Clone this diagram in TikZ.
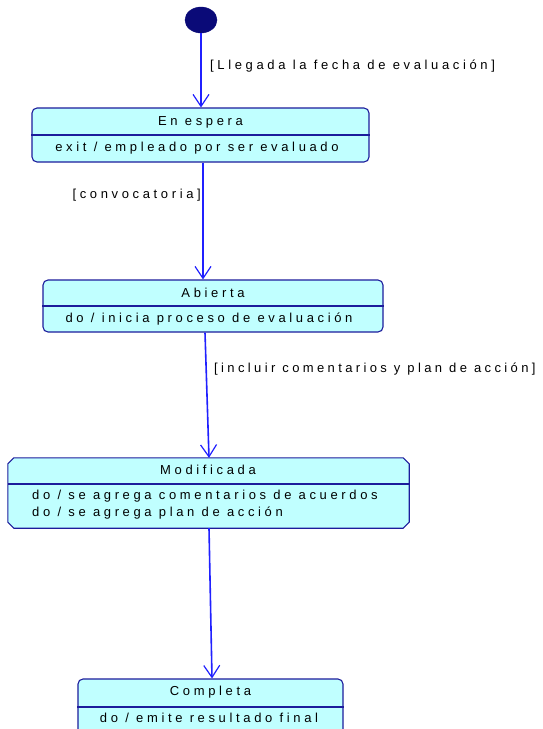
\documentclass[tikz,border=0pt]{standalone}
\usepackage{fontspec}
\newfontfamily\umlfont[LetterSpace=28]{Liberation Sans}
\newfontfamily\umlfontnarrow[LetterSpace=26]{Liberation Sans}
\usetikzlibrary{arrows.meta,shapes.geometric}
\definecolor{statefill}{HTML}{C0FFFF}
\definecolor{stateline}{HTML}{1C1C9C}
\definecolor{flowblue}{HTML}{2020FF}
\definecolor{initfill}{HTML}{0A0A78}
\begin{document}
\begin{tikzpicture}[x=1pt,y=-1pt,
  state/.style={draw=stateline, fill=statefill, line width=1.1pt,
    rounded corners=5pt, inner sep=0pt},
  placeholder/.style={inner sep=0pt},
  cutbox/.style={draw=stateline, fill=statefill, line width=1.1pt},
  divider/.style={draw=stateline, line width=1.1pt},
  txt/.style={font=\umlfont\fontsize{13}{15}\selectfont, inner sep=0pt, text=black},
  txtnarrow/.style={txt, font=\umlfontnarrow\fontsize{13}{15}\selectfont},
  flow/.style={draw=flowblue, line width=1.6pt,
    -{Straight Barb[length=12pt,width=16pt,line width=1.2pt]}},
  initial/.style={ellipse, fill=initfill, draw=initfill, inner sep=0pt,
    minimum width=32pt, minimum height=26pt}
]
\clip (0,0) rectangle (543,729);
\fill[white] (0,0) rectangle (543,729);

% initial pseudo-state
\node[initial] (init) at (201,20) {};

% state boxes
\node[state, minimum width=337pt, minimum height=54pt] (espera) at (200.5,135) {};
\node[state, minimum width=340pt, minimum height=52pt] (abierta) at (213,306) {};
\node[placeholder, minimum width=401pt, minimum height=70pt] (modif) at (208.5,493) {};
\node[state, minimum width=265pt, minimum height=56pt] (completa) at (210.5,707) {};

% box with cut corners
\draw[cutbox] ([xshift=6pt]modif.north west) -- ([xshift=-6pt]modif.north east)
  -- ([yshift=-6pt]modif.north east) -- ([yshift=6pt]modif.south east)
  -- ([xshift=-6pt]modif.south east) -- ([xshift=6pt]modif.south west)
  -- ([yshift=6pt]modif.south west) -- ([yshift=-6pt]modif.north west) -- cycle;

% compartment dividers
\draw[divider] (espera.west) -- (espera.east);
\draw[divider] (abierta.west) -- (abierta.east);
\draw[divider] ([yshift=9pt]modif.west) -- ([yshift=9pt]modif.east);
\draw[divider] (completa.west) -- (completa.east);

% state texts
\node[txt] (esperaT) at (200.5,122) {En espera};
\node[txt] (esperaB) at (197,148) {exit / empleado por ser evaluado};
\node[txt] (abiertaT) at (213,293) {Abierta};
\node[txt] (abiertaB) at (209,319) {do / inicia proceso de evaluación};
\node[txt] (modifT) at (208,470) {Modificada};
\node[txt, anchor=west] (modifB1) at (32,496) {do / se agrega comentarios de acuerdos};
\node[txt, anchor=west] (modifB2) at (32,513) {do / se agrega plan de acción};
\node[txt] (completaT) at (210.5,692) {Completa};
\node[txt] (completaB) at (209,718) {do / emite resultado final};

% transitions
\draw[flow] (init.south) -- ([xshift=0.5pt]espera.north);
\draw[flow] ([xshift=2.5pt]espera.south) -- ([xshift=-10pt]abierta.north);
\draw[flow] ([xshift=-8pt]abierta.south) -- ([xshift=0.5pt]modif.north);
\draw[flow] ([xshift=0.5pt]modif.south) -- ([xshift=1.5pt]completa.north);

% guard labels
\node[txt, anchor=west] (g1) at (210,66) {[Llegada la fecha de evaluación]};
\node[txt, anchor=east] (g2) at (201,195) {[convocatoria]};
\node[txtnarrow, anchor=west] (g3) at (214,369) {[incluir comentarios y plan de acción]};
\end{tikzpicture}
\end{document}
